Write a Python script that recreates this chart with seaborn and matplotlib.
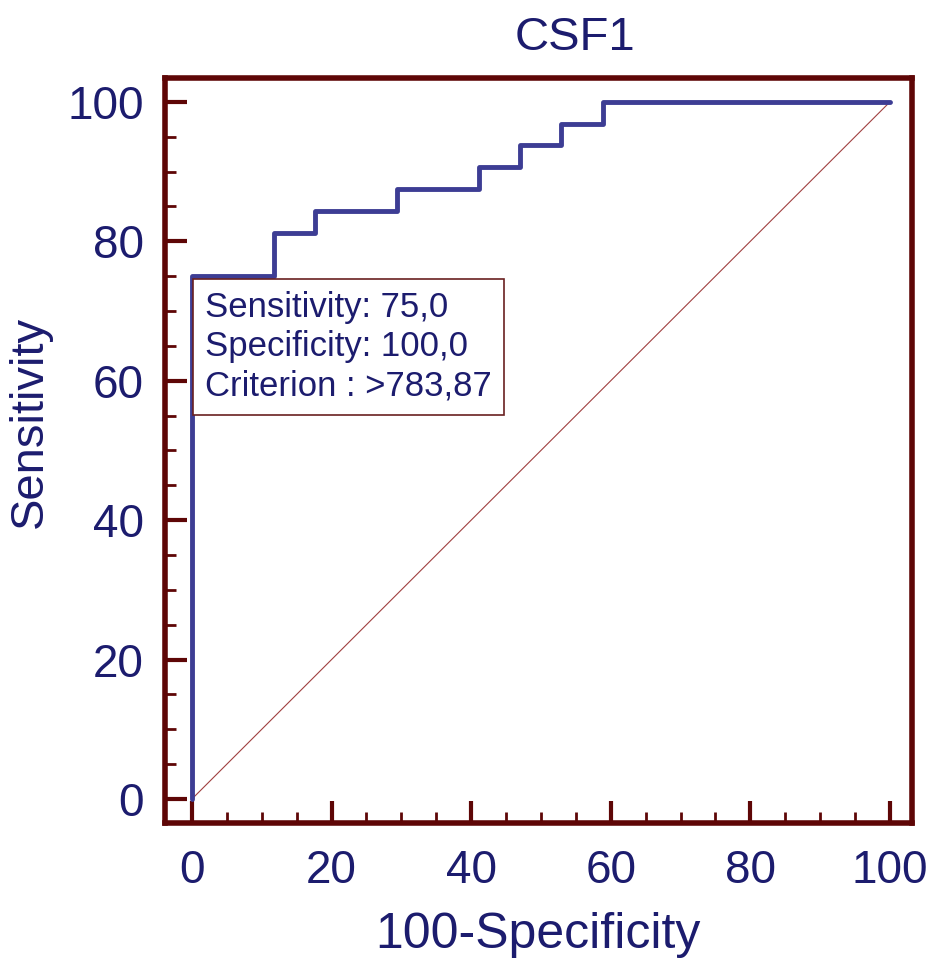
import matplotlib
matplotlib.use('Agg')
import matplotlib.pyplot as plt
from matplotlib.ticker import MultipleLocator
import seaborn as sns

# ROC curve of CSF1 (corner points, step drawn)
fpr = [0, 0, 11.76, 17.65, 29.41, 41.18, 47.06, 52.94, 58.82, 100]   # 100-Specificity
tpr = [0, 75, 81.25, 84.38, 87.5, 90.63, 93.75, 96.88, 100, 100]     # Sensitivity
ref_x = [0, 100]
ref_y = [0, 100]

title = 'CSF1'
box_lines = ['Sensitivity: 75,0', 'Specificity: 100,0', 'Criterion : >783,87']
cut_x, cut_y = 0, 75

navy = '#1c1c6e'
frame = '#5e0606'

sns.set_style('ticks')
plt.rcParams['font.family'] = ['Liberation Sans', 'DejaVu Sans']

fig = plt.figure(figsize=(9.33, 9.73), dpi=100)
ax = fig.add_axes([0.1768, 0.1542, 0.8006, 0.7657])

sns.lineplot(x=ref_x, y=ref_y, ax=ax, color='#a04040', linewidth=0.8)
sns.lineplot(x=fpr, y=tpr, ax=ax, color='#3d3d94', linewidth=3.5,
             drawstyle='steps-post', estimator=None, sort=False)

ax.set_xlim(-3.87, 103.15)
ax.set_ylim(-3.44, 103.44)
ax.xaxis.set_major_locator(MultipleLocator(20))
ax.yaxis.set_major_locator(MultipleLocator(20))
ax.xaxis.set_minor_locator(MultipleLocator(5))
ax.yaxis.set_minor_locator(MultipleLocator(5))

for s in ax.spines.values():
    s.set_visible(True)
    s.set_color(frame)
    s.set_linewidth(4)

ax.tick_params(which='both', bottom=True, left=True, top=False, right=False)
ax.tick_params(which='major', direction='in', length=16, width=3, color=frame,
               labelsize=33, labelcolor=navy)
ax.tick_params(which='minor', direction='in', length=8, width=2, color=frame)
ax.tick_params(axis='x', which='major', pad=19)
ax.tick_params(axis='y', which='major', pad=15)

ax.set_xlabel('100-Specificity', fontsize=36, color=navy)
ax.set_ylabel('Sensitivity', fontsize=34, color=navy)
ax.xaxis.set_label_coords(0.50, -0.12)
ax.yaxis.set_label_coords(-0.151, 0.538)

fig.text(575 / 933, 1 - 50 / 973, title, fontsize=34, color=navy,
         ha='center', va='baseline')

ax.annotate('\n'.join(box_lines), xy=(cut_x, cut_y), xytext=(9.4, -10.8),
            textcoords='offset points', ha='left', va='top',
            fontsize=25, color=navy, linespacing=1.24, zorder=5,
            bbox=dict(boxstyle='square,pad=0.35', facecolor='white',
                      edgecolor='#6a2020', linewidth=1.2))

fig.savefig('out.png', dpi=100)
